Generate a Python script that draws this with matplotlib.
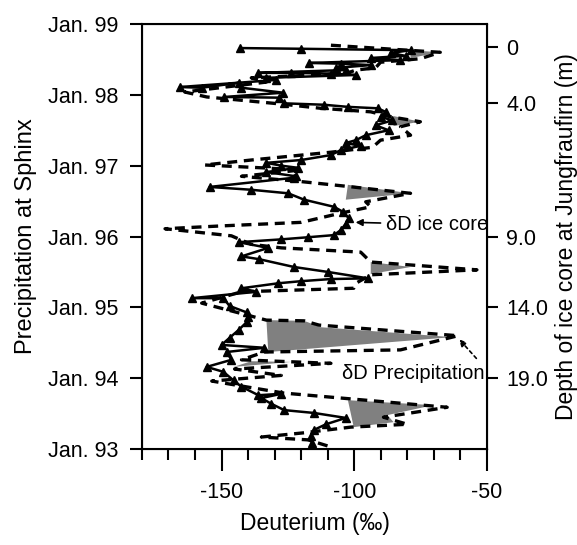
import matplotlib
matplotlib.use("Agg")
import matplotlib.pyplot as plt

plt.rcParams['font.family'] = ['Liberation Sans', 'DejaVu Sans']
plt.rcParams['axes.unicode_minus'] = False

# ice core deltaD (solid, triangles), plotted against time (years, 93 = Jan. 93)
ice_dD = [-142.9, -120.0, -78.8, -86.3, -80.7, -93.8, -82.6, -117.0, -105.1, -93.8,
          -106.9, -103.2, -136.1, -123.8, -108.8, -99.4, -133.1, -129.4, -165.7, -157.5,
          -143.6, -142.5, -126.8, -148.9, -128.3, -126.4, -111.4, -102.4, -91.2, -88.2,
          -90.1, -85.6, -92.0, -87.1, -95.7, -99.4, -103.2, -97.6, -105.1, -108.8,
          -120.0, -133.1, -127.5, -121.2, -133.1, -121.9, -122.7, -154.5, -138.8, -124.9,
          -118.9, -107.7, -104.3, -102.1, -103.2, -105.1, -107.7, -117.4, -127.5, -143.6,
          -132.4, -142.5, -135.8, -122.7, -109.9, -94.9, -108.8, -120.0, -128.7, -142.5,
          -136.9, -161.2, -149.3, -147.0, -140.6, -139.9, -140.6, -143.6, -147.0, -150.0,
          -133.9, -148.1, -146.3, -155.6, -149.3, -145.5, -142.5, -136.1, -127.5, -135.0,
          -131.3, -126.4, -115.2, -103.2, -110.7, -115.2, -116.3, -115.9]
ice_year = [98.66, 98.65, 98.63, 98.59, 98.55, 98.52, 98.49, 98.45, 98.44, 98.42,
            98.38, 98.35, 98.31, 98.31, 98.30, 98.28, 98.24, 98.21, 98.11, 98.10,
            98.17, 98.10, 98.03, 97.97, 97.96, 97.88, 97.86, 97.83, 97.81, 97.76,
            97.69, 97.64, 97.57, 97.50, 97.43, 97.36, 97.32, 97.28, 97.22, 97.15,
            97.08, 97.04, 97.00, 96.97, 96.91, 96.85, 96.83, 96.70, 96.66, 96.61,
            96.52, 96.42, 96.35, 96.26, 96.18, 96.09, 96.02, 95.99, 95.96, 95.92,
            95.84, 95.72, 95.68, 95.57, 95.50, 95.41, 95.40, 95.37, 95.34, 95.27,
            95.22, 95.13, 95.13, 95.02, 94.93, 94.86, 94.79, 94.68, 94.57, 94.47,
            94.43, 94.37, 94.26, 94.16, 94.09, 93.97, 93.88, 93.76, 93.78, 93.72,
            93.64, 93.55, 93.51, 93.44, 93.35, 93.27, 93.18, 93.08]

# precipitation deltaD at Sphinx (dashed)
prec_dD = [-108.8, -67.6, -75.1, -90.1, -92.0, -99.4, -103.2, -138.8, -133.1, -163.9,
           -155.6, -127.5, -112.6, -93.8, -86.3, -75.1, -82.6, -78.8, -90.1, -93.1,
           -108.8, -138.8, -156.4, -135.0, -120.0, -142.5, -121.2, -103.2, -78.8, -95.7,
           -93.8, -105.1, -120.0, -150.0, -171.3, -146.3, -138.8, -127.5, -97.6, -93.8,
           -53.8, -93.8, -99.4, -100.2, -142.5, -157.5, -133.1, -118.9, -113.3, -60.9,
           -82.6, -133.9, -142.5, -108.8, -145.1, -127.5, -153.7, -142.5, -126.4, -65.0,
           -89.0, -80.0, -101.3, -118.9, -135.0, -117.4, -108.8]
prec_year = [98.70, 98.60, 98.51, 98.46, 98.38, 98.35, 98.30, 98.24, 98.18, 98.04,
             97.97, 97.87, 97.81, 97.76, 97.69, 97.62, 97.55, 97.43, 97.36, 97.26,
             97.19, 97.08, 97.01, 96.97, 96.94, 96.85, 96.78, 96.71, 96.61, 96.49,
             96.42, 96.33, 96.20, 96.15, 96.11, 96.01, 95.89, 95.84, 95.78, 95.64,
             95.53, 95.46, 95.34, 95.27, 95.22, 95.06, 94.82, 94.81, 94.75, 94.60,
             94.40, 94.37, 94.26, 94.21, 94.13, 94.04, 93.96, 93.89, 93.79, 93.59,
             93.45, 93.35, 93.31, 93.23, 93.17, 93.13, 93.03]

# grey shaded areas (precipitation enriched vs. ice core)
shade_dD = [
    [-78.8, -67.6, -78.8],
    [-85.2, -75.1, -85.2],
    [-102.4, -78.8, -103.2],
    [-93.8, -78.8, -93.8],
    [-133.1, -118.9, -112.6, -63.1, -132.4],
    [-145.5, -138.8, -123.8],
    [-102.4, -70.2, -87.5, -85.2, -100.2],
]
shade_year = [
    [98.63, 98.60, 98.52],
    [97.70, 97.62, 97.56],
    [96.73, 96.61, 96.52],
    [95.64, 95.57, 95.47],
    [94.82, 94.81, 94.72, 94.58, 94.37],
    [94.16, 94.24, 94.23],
    [93.69, 93.62, 93.48, 93.38, 93.31],
]

year_ticks = [93, 94, 95, 96, 97, 98, 99]
year_labels = ["Jan. 93", "Jan. 94", "Jan. 95", "Jan. 96", "Jan. 97", "Jan. 98", "Jan. 99"]
depth_tick_years = [98.68, 97.89, 96.0, 95.0, 94.0]
depth_labels = ["0", "4.0", "9.0", "14.0", "19.0"]

fig = plt.figure(figsize=(5.77, 5.45), dpi=100)
ax = fig.add_axes([0.246, 0.176, 0.598, 0.780])

for xs, ys in zip(shade_dD, shade_year):
    ax.fill(xs, ys, color="#808080", linewidth=0, zorder=1)

ax.plot(prec_dD, prec_year, color="black", linestyle=(0, (3, 2)), linewidth=2.4, zorder=2)
ax.plot(ice_dD, ice_year, color="black", linewidth=1.8, marker="^", markersize=6, zorder=3)

ax.set_xlim(-180, -50)
ax.set_ylim(93, 99)
ax.set_xticks([-150, -100, -50])
ax.set_xticks(range(-180, -49, 10), minor=True)
ax.set_yticks(year_ticks)
ax.set_yticklabels(year_labels)
ax.tick_params(axis="x", which="major", direction="out", length=16, width=1.5, labelsize=15.5, pad=8)
ax.tick_params(axis="x", which="minor", direction="out", length=8, width=1.5)
ax.tick_params(axis="y", direction="out", length=9, width=1.5, labelsize=15.5, pad=8)
for s in ax.spines.values():
    s.set_linewidth(1.5)

ax.set_xlabel("Deuterium (‰)", fontsize=16.5, labelpad=6)
ax.set_ylabel("Precipitation at Sphinx", fontsize=17, labelpad=8)

ax2 = ax.twinx()
ax2.set_ylim(93, 99)
ax2.set_yticks(depth_tick_years)
ax2.set_yticklabels(depth_labels)
ax2.tick_params(axis="y", direction="out", length=8, width=1.5, labelsize=15.5, pad=6)
ax2.set_ylabel("Depth of ice core at Jungfraufirn (m)", fontsize=16.5, labelpad=5)

ax.annotate("δD ice core", xy=(-99.5, 96.20), xytext=(-88, 96.17),
            fontsize=14.5, va="center", ha="left",
            arrowprops=dict(arrowstyle="-|>", color="black", lw=1.2, mutation_scale=10,
                            shrinkA=2, shrinkB=0))
ax.annotate("", xy=(-60.5, 94.55), xytext=(-54, 94.28),
            arrowprops=dict(arrowstyle="-|>", color="black", lw=1.2, linestyle=(0, (2, 2)),
                            mutation_scale=10, shrinkA=0, shrinkB=0))
ax.text(-50.8, 94.06, "δD Precipitation", fontsize=14.5, va="center", ha="right")

fig.savefig("out.png", dpi=100)
